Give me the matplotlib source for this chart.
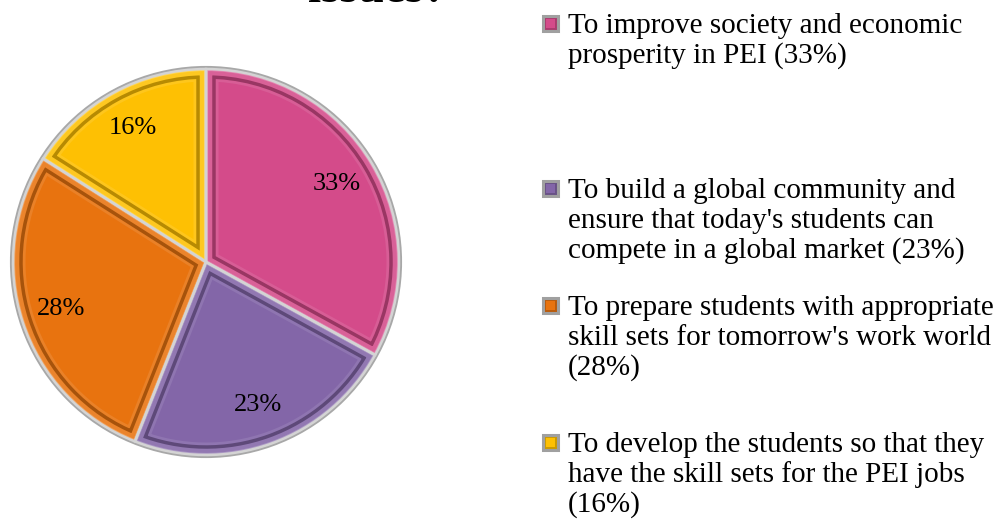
import math
import matplotlib
matplotlib.use("Agg")
import matplotlib.pyplot as plt
from matplotlib.patches import Wedge, Rectangle, Circle
import matplotlib.colors as mcolors

plt.rcParams['font.family'] = ['Liberation Serif', 'DejaVu Serif']

# Survey responses
shares = [33, 23, 28, 16]
pct_labels = ['33%', '23%', '28%', '16%']
legend_labels = [
    "To improve society and economic\nprosperity in PEI (33%)",
    "To build a global community and\nensure that today's students can\ncompete in a global market (23%)",
    "To prepare students with appropriate\nskill sets for tomorrow's work world\n(28%)",
    "To develop the students so that they\nhave the skill sets for the PEI jobs\n(16%)",
]
colors = ['#D44B8A', '#8366A8', '#E8730F', '#FEC003']
title_fragment = "issues?"

W, H = 1005, 525
fig = plt.figure(figsize=(W / 100, H / 100), dpi=100)


def shade(c, f):
    r, g, b = mcolors.to_rgb(c)
    return (r * f, g * f, b * f)


def tint(c, f):
    r, g, b = mcolors.to_rgb(c)
    return (r + (1 - r) * f, g + (1 - g) * f, b + (1 - b) * f)


# Pie axes: centre at (206, 262) px, radius 193 px
cx, cy, R = 206, 262, 193
half = 205
ax = fig.add_axes([(cx - half) / W, (H - cy - half) / H, 2 * half / W, 2 * half / H])

wedges, texts = ax.pie(shares, colors=colors, startangle=90, counterclock=False,
                       radius=1.0, wedgeprops=dict(edgecolor='none', linewidth=0))
lim = half / R
ax.set_xlim(-lim, lim)
ax.set_ylim(-lim, lim)
ax.set_aspect('equal')
ax.axis('off')

# soft grey rim around the pie
ax.add_patch(Circle((0, 0), 1.008, facecolor='none', edgecolor='#a8a8a8', lw=2.2, zorder=0))

for w, c in zip(wedges, colors):
    w.set_zorder(1)
    # bevel: light outer lip, dark groove, lighter ridge, then the face
    for lw, col in [(18, tint(c, 0.10)), (14, shade(c, 0.72)), (9, tint(c, 0.12)), (3, tint(c, 0.35))]:
        band = Wedge((0, 0), 1.0, w.theta1, w.theta2, facecolor='none',
                     edgecolor=col, linewidth=lw, zorder=2)
        ax.add_patch(band)
        band.set_clip_path(w)
    ax.add_patch(Wedge((0, 0), 1.0, w.theta1, w.theta2, facecolor='none',
                       edgecolor='#d4d4d4', linewidth=1.8, zorder=3))

for w, lab in zip(wedges, pct_labels):
    mid = math.radians((w.theta1 + w.theta2) / 2)
    ax.text(0.79 * math.cos(mid), 0.79 * math.sin(mid), lab, ha='center', va='center',
            fontsize=19, color='black', zorder=5)

# title, running off the top edge
fig.text(378 / W, (H - 1.5) / H, title_fragment, ha='center', va='baseline',
         fontsize=34, fontweight='bold', color='black')

# legend
baselines = [33, 198, 315, 452]
line_gap = 30
for lab, c, y0 in zip(legend_labels, colors, baselines):
    for k, line in enumerate(lab.split('\n')):
        fig.text(568 / W, (H - (y0 + k * line_gap)) / H, line, ha='left', va='baseline',
                 fontsize=21, color='black')
    mx, my, s = 543, y0 - 17, 15
    fig.patches.append(Rectangle((mx / W, (H - my - s) / H), s / W, s / H,
                                 transform=fig.transFigure, facecolor=shade(c, 0.8),
                                 edgecolor='#a0a0a0', linewidth=2.2))
    fig.patches.append(Rectangle(((mx + 3) / W, (H - my - s + 3) / H), (s - 6) / W, (s - 6) / H,
                                 transform=fig.transFigure, facecolor=c,
                                 edgecolor='none'))

fig.savefig('out.png', dpi=100, facecolor='white')
